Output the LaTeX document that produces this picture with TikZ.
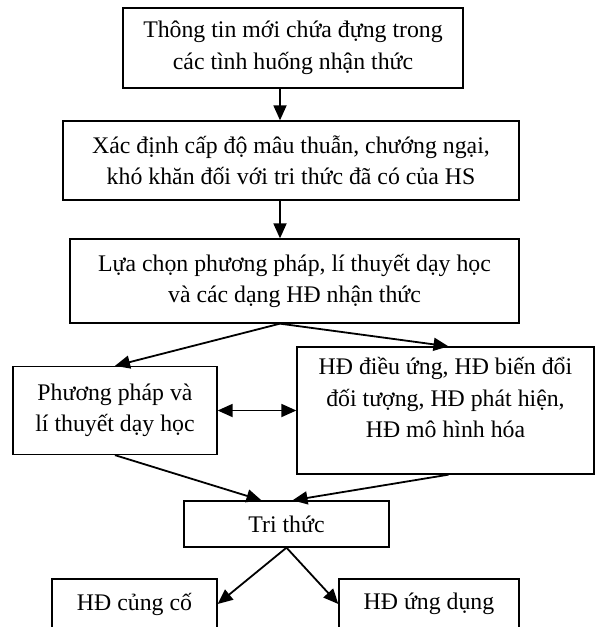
\documentclass[tikz,border=0pt]{standalone}
\usepackage{fontspec}
\setmainfont{Liberation Serif}
\usetikzlibrary{arrows.meta}
\tikzset{
  box/.style={draw=black,line width=1.3pt,align=center,inner sep=0pt,
              font=\fontsize{23.8pt}{31.5pt}\selectfont},
  flow/.style={-{Triangle[length=15pt,width=13pt]},line width=1.8pt},
  bothflow/.style={{Triangle[length=15pt,width=13pt]}-{Triangle[length=15pt,width=13pt]},line width=1.8pt}
}
\begin{document}
\begin{tikzpicture}[x=1pt,y=-1pt]
  \useasboundingbox (0,0) rectangle (596,627);
  \node[box,minimum width=340pt,minimum height=80pt] (info) at (293,48) {Thông tin mới chứa đựng trong\\các tình huống nhận thức};
  \node[box,minimum width=456pt,minimum height=79pt] (level) at (291,160.5) {Xác định cấp độ mâu thuẫn, chướng ngại,\\khó khăn đối với tri thức đã có của HS};
  \node[box,minimum width=449pt,minimum height=84pt] (choice) at (294.5,281) {Lựa chọn phương pháp, lí thuyết dạy học\\và các dạng HĐ nhận thức};
  \node[box,minimum width=204pt,minimum height=88pt] (method) at (115,410.5) {Phương pháp và\\lí thuyết dạy học};
  \node[box,minimum width=297pt,minimum height=127pt] (activity) at (445.5,410.5) {HĐ điều ứng, HĐ biến đổi\\đối tượng, HĐ phát hiện,\\HĐ mô hình hóa\\[-6pt]\mbox{}};
  \node[box,minimum width=205pt,minimum height=46pt] (knowledge) at (286.5,524) {Tri thức};
  \node[box,minimum width=165pt,minimum height=50pt] (consolidate) at (134.5,604) {HĐ củng cố};
  \node[box,minimum width=180pt,minimum height=50pt] (apply) at (429,604) {HĐ ứng dụng};

  \coordinate (spine) at (280,0);
  \coordinate (split) at (choice.south -| spine);

  \draw[flow] (info.south -| spine) -- (level.north -| spine);
  \draw[flow] (level.south -| spine) -- (choice.north -| spine);
  \draw[flow] (split) -- (method.north);
  \draw[flow] (split) -- ([xshift=3pt]activity.north);
  \draw[bothflow] (method.east) -- (method.east -| activity.west);
  \draw[flow] (method.south) -- ([xshift=-25pt]knowledge.north);
  \draw[flow] ([xshift=3pt]activity.south) -- ([xshift=6pt]knowledge.north);
  \draw[flow] (knowledge.south) -- (consolidate.east);
  \draw[flow] (knowledge.south) -- (apply.west);
\end{tikzpicture}
\end{document}
